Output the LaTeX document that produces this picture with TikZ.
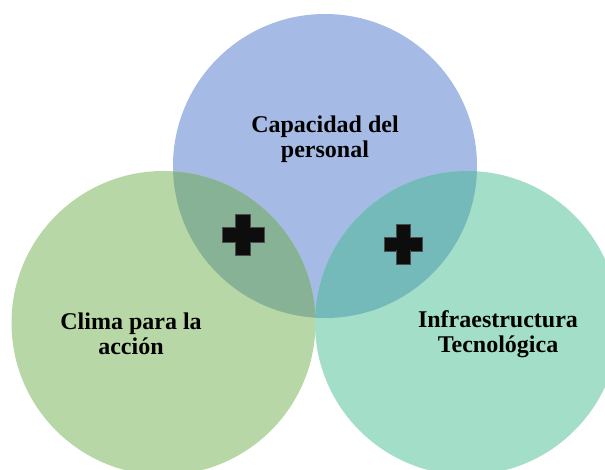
\documentclass[tikz,border=0pt]{standalone}
\usepackage{fontspec}
\setmainfont{Liberation Serif}
\definecolor{cblue}{HTML}{A5BAE4}
\definecolor{cgreen}{HTML}{B7D7A6}
\definecolor{cteal}{HTML}{A2DEC8}
\definecolor{cgb}{HTML}{88B296}
\definecolor{cbt}{HTML}{74BABA}
\definecolor{call}{HTML}{6FAFA5}
\begin{document}
\begin{tikzpicture}[x=1pt,y=-1pt,
  lbl/.style={font=\bfseries\fontsize{24}{25}\selectfont,align=center,text=black},
  plus/.style={fill=black!95,draw=black!70,line width=0.8pt}]
\useasboundingbox (0,0) rectangle (605,469);
\clip (0,0) rectangle (605,469);
\coordinate (ct) at (325,166);
\coordinate (cl) at (163.5,323);
\coordinate (cr) at (467,323);
\fill[cblue] (ct) circle (152);
\fill[cgreen] (cl) circle (152);
\fill[cteal] (cr) circle (152);
\begin{scope}
  \clip (ct) circle (152);
  \fill[cgb] (cl) circle (152);
  \fill[cbt] (cr) circle (152);
  \clip (cl) circle (152);
  \fill[call] (cr) circle (152);
\end{scope}
\node[lbl] (tt) at (325,139) {Capacidad del\\personal};
\node[lbl] (tl) at (131,334) {Clima para la\\acción};
\node[lbl] (tr) at (498,334) {Infraestructura\\Tecnológica};
\node[plus,minimum width=42pt,minimum height=15pt,inner sep=0pt] (p1h) at (243,235) {};
\node[plus,minimum width=15pt,minimum height=41pt,inner sep=0pt] (p1v) at (243,235) {};
\node[fill=black!95,minimum width=40.2pt,minimum height=13.4pt,inner sep=0pt] (p1c) at (243,235) {};
\node[plus,minimum width=38pt,minimum height=14pt,inner sep=0pt] (p2h) at (403,244) {};
\node[plus,minimum width=14pt,minimum height=40pt,inner sep=0pt] (p2v) at (403,244) {};
\node[fill=black!95,minimum width=36.2pt,minimum height=12.4pt,inner sep=0pt] (p2c) at (403,244) {};
\end{tikzpicture}
\end{document}
